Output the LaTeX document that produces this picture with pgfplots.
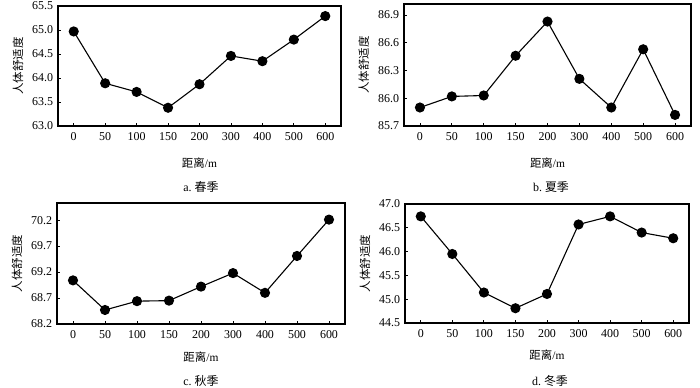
\documentclass[border=0pt]{standalone}
\usepackage{fontspec}
\setmainfont{Liberation Serif}
\newfontfamily\cjk{Noto Sans CJK SC}
\usepackage{pgfplots}
\pgfplotsset{compat=1.18}
\pgfplotsset{
  myax/.style={
    scale only axis, anchor=south west,
    xmin=-0.5, xmax=8.5,
    xtick={0,1,2,3,4,5,6,7,8},
    xticklabels={0,50,100,150,200,300,400,500,600},
    tick align=inside, tick pos=left,
    major tick length=3bp,
    axis line style={line width=1.1bp},
    every tick/.style={black, line width=0.8bp},
    tick label style={font=\fontsize{12}{14}\selectfont},
    xticklabel style={yshift=-3bp},
    yticklabel style={xshift=-1.5bp},
    /pgf/number format/assume math mode=true,
    /pgf/number format/fixed,
    /pgf/number format/fixed zerofill,
    /pgf/number format/precision=1,
    ylabel={\cjk 人体舒适度},
    xlabel={{\cjk 距离}/m},
    label style={font=\fontsize{11.5}{13}\selectfont},
    clip=false,
  },
  myplot/.style={black, line width=1.1bp, mark=*, mark size=4.5bp, mark options={fill=black, solid}},
}
\begin{document}
\begin{tikzpicture}
\path[use as bounding box] (0bp,0bp) rectangle (700bp,388bp);

% a. spring
\begin{axis}[myax, at={(58bp,262bp)}, width=283bp, height=120bp,
  ymin=63, ymax=65.5, ytick={63,63.5,64,64.5,65,65.5},
  ylabel style={at={(axis description cs:-0.141,0.5)}, anchor=center},
  xlabel style={at={(axis description cs:0.5,-0.311)}, anchor=center}]
\addplot[myplot] coordinates {(0,64.97) (1,63.89) (2,63.71) (3,63.38) (4,63.87) (5,64.46) (6,64.35) (7,64.80) (8,65.29)};
\end{axis}

% b. summer
\begin{axis}[myax, at={(404bp,262bp)}, width=287bp, height=122bp,
  ymin=85.7, ymax=87.02, ytick={85.7,86.0,86.3,86.6,86.9},
  ylabel style={at={(axis description cs:-0.14,0.5)}, anchor=center},
  xlabel style={at={(axis description cs:0.5,-0.306)}, anchor=center}]
\addplot[myplot] coordinates {(0,85.90) (1,86.02) (2,86.03) (3,86.46) (4,86.83) (5,86.21) (6,85.90) (7,86.53) (8,85.82)};
\end{axis}

% c. autumn
\begin{axis}[myax, at={(57bp,64bp)}, width=288bp, height=121bp,
  ymin=68.2, ymax=70.53, ytick={68.2,68.7,69.2,69.7,70.2},
  ylabel style={at={(axis description cs:-0.139,0.5)}, anchor=center},
  xlabel style={at={(axis description cs:0.5,-0.273)}, anchor=center}]
\addplot[myplot] coordinates {(0,69.04) (1,68.47) (2,68.64) (3,68.65) (4,68.92) (5,69.18) (6,68.80) (7,69.51) (8,70.21)};
\end{axis}

% d. winter
\begin{axis}[myax, at={(405bp,65bp)}, width=284bp, height=119bp,
  ymin=44.5, ymax=47, ytick={44.5,45,45.5,46,46.5,47},
  ylabel style={at={(axis description cs:-0.141,0.5)}, anchor=center},
  xlabel style={at={(axis description cs:0.5,-0.27)}, anchor=center}]
\addplot[myplot] coordinates {(0,46.74) (1,45.95) (2,45.14) (3,44.81) (4,45.11) (5,46.57) (6,46.74) (7,46.40) (8,46.28)};
\end{axis}

\node[font=\fontsize{12}{14}\selectfont] at (201bp,201bp) {a.\ {\cjk 春季}};
\node[font=\fontsize{12}{14}\selectfont] at (551bp,201bp) {b.\ {\cjk 夏季}};
\node[font=\fontsize{12}{14}\selectfont] at (201bp,7bp) {c.\ {\cjk 秋季}};
\node[font=\fontsize{12}{14}\selectfont] at (550bp,7bp) {d.\ {\cjk 冬季}};
\end{tikzpicture}
\end{document}
